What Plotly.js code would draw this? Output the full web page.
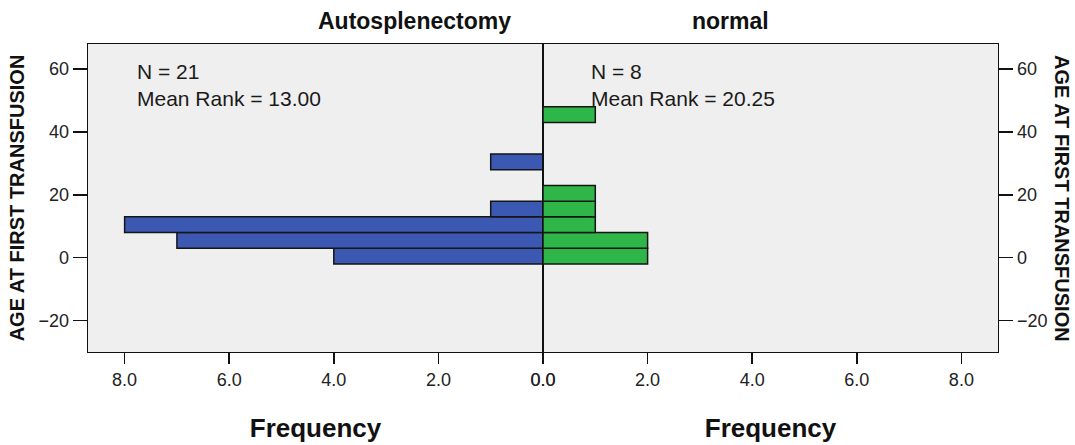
<!DOCTYPE html>
<html>
<head>
<meta charset="utf-8">
<script src="https://cdn.plot.ly/plotly-3.0.1.min.js"></script>
<style>html,body{margin:0;padding:0;background:#fff;}#chart{width:1075px;height:445px;}</style>
</head>
<body>
<div id="chart"></div>
<script>
// Histogram bins of AGE AT FIRST TRANSFUSION (bin width 5, centers)
const binCenters = [0.5, 5.5, 10.5, 15.5, 20.5, 25.5, 30.5, 35.5, 40.5, 45.5];
const autosplenectomyCounts = [4, 7, 8, 1, 0, 0, 1, 0, 0, 0];
const normalCounts = [2, 2, 1, 1, 1, 0, 0, 0, 0, 1];
const groupNames = ["Autosplenectomy", "normal"];
const groupN = [21, 8];
const meanRanks = ["13.00", "20.25"];
const freqTicks = [0, 2, 4, 6, 8];
const ageTicks = [-20, 0, 20, 40, 60];
const yTitle = 'AGE AT FIRST TRANSFUSION';

function nonzero(counts) {
  const x = [], y = [];
  counts.forEach((c, i) => { if (c > 0) { x.push(c); y.push(binCenters[i]); } });
  return {x, y};
}
const a = nonzero(autosplenectomyCounts);
const n = nonzero(normalCounts);

const lineStyle = {color: '#151515', width: 1.5};
const traces = [
  {type: 'bar', orientation: 'h', x: a.x, y: a.y, width: 5, xaxis: 'x', yaxis: 'y',
   marker: {color: '#3b58b3', line: lineStyle}, hoverinfo: 'x+y'},
  {type: 'bar', orientation: 'h', x: n.x, y: n.y, width: 5, xaxis: 'x2', yaxis: 'y2',
   marker: {color: '#2eb648', line: lineStyle}, hoverinfo: 'x+y'}
];

const FAM = 'Liberation Sans, Arial, sans-serif';
const tickFont = {family: FAM, size: 18, color: '#222'};
const axTitleFont = {family: FAM, size: 26, color: '#111', weight: 'bold'};
const yTitleFont = {family: FAM, size: 20, color: '#111', weight: 'bold'};

function xAxis(domain, range, anchor) {
  return {
    domain: domain, range: range, anchor: anchor,
    tickvals: freqTicks, ticktext: freqTicks.map(v => v.toFixed(1)),
    ticks: 'outside', ticklen: 11, tickwidth: 1.5, tickcolor: '#111',
    showline: true, linecolor: '#111', linewidth: 1.3, mirror: true,
    showgrid: false, zeroline: false, tickfont: tickFont,
    title: {text: 'Frequency', font: axTitleFont, standoff: 30}
  };
}
function yAxis(side, anchor, withTitle) {
  const ax = {
    range: [-30, 68], anchor: anchor, side: side,
    tickvals: ageTicks, ticks: 'outside', ticklen: 14, tickwidth: 1.5, tickcolor: '#111',
    showline: true, linecolor: '#111', linewidth: 1.3, mirror: true,
    showgrid: false, zeroline: false, tickfont: tickFont
  };
  if (withTitle) ax.title = {text: yTitle, font: yTitleFont, standoff: 8};
  return ax;
}

const annFont = {family: FAM, size: 21, color: '#1a1a1a'};
const titleFont = {family: FAM, size: 23, color: '#111', weight: 'bold'};
const layout = {
  width: 1075, height: 445,
  margin: {l: 88, r: 77, t: 44, b: 93},
  paper_bgcolor: '#ffffff', plot_bgcolor: '#efefef',
  showlegend: false, bargap: 0,
  xaxis: xAxis([0, 0.5], [8.7, 0], 'y'),
  xaxis2: xAxis([0.5, 1], [0, 8.7], 'y2'),
  yaxis: yAxis('left', 'x', true),
  yaxis2: yAxis('right', 'x2', false),
  annotations: [
    {xref: 'paper', yref: 'paper', x: 0.25, y: 1, yshift: 23, yanchor: 'middle', showarrow: false,
     text: groupNames[0], font: titleFont},
    {xref: 'paper', yref: 'paper', x: 0.75, y: 1, yshift: 23, yanchor: 'middle', showarrow: false,
     text: groupNames[1], font: titleFont},
    {xref: 'x', yref: 'y', x: 7.8, y: 63.5, xanchor: 'left', yanchor: 'top', align: 'left', showarrow: false,
     text: 'N = ' + groupN[0] + '<br>Mean Rank = ' + meanRanks[0], font: annFont},
    {xref: 'x2', yref: 'y2', x: 0.88, y: 63.5, xanchor: 'left', yanchor: 'top', align: 'left', showarrow: false,
     text: 'N = ' + groupN[1] + '<br>Mean Rank = ' + meanRanks[1], font: annFont},
    {xref: 'paper', yref: 'paper', x: 1, xshift: 64, y: 0.5, xanchor: 'center', yanchor: 'middle',
     textangle: 90, showarrow: false, text: yTitle, font: yTitleFont}
  ]
};

Plotly.newPlot('chart', traces, layout, {displayModeBar: false, staticPlot: true});
</script>
</body>
</html>
